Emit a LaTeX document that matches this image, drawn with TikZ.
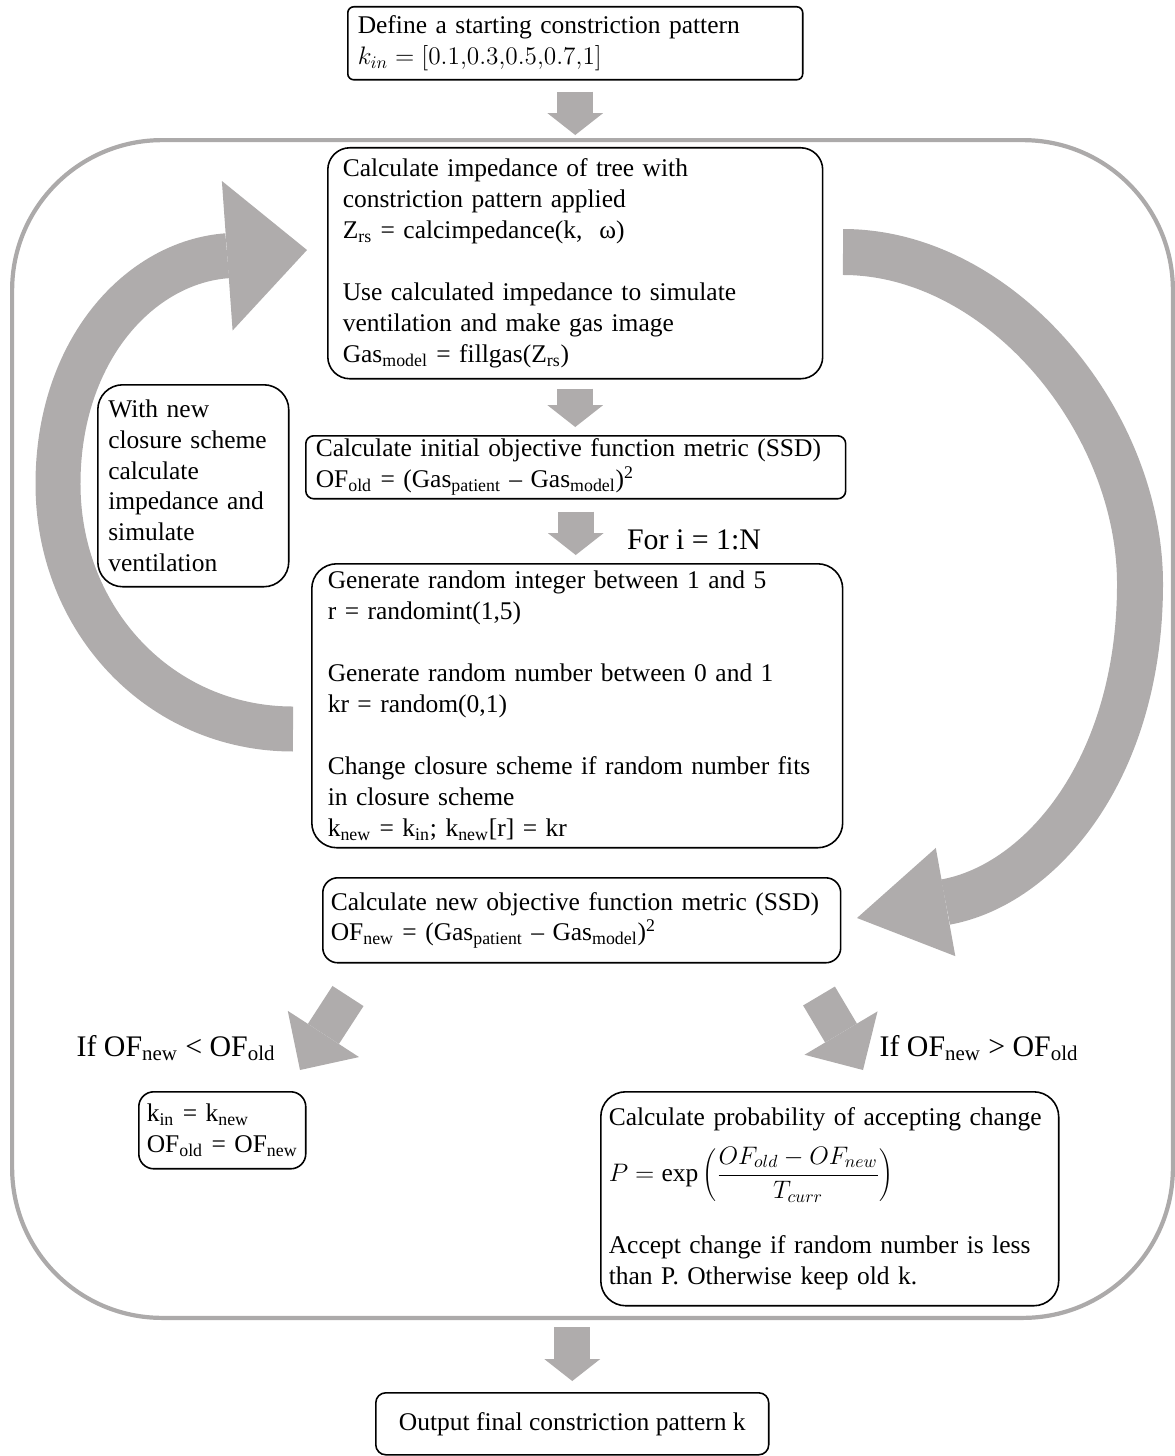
\documentclass[tikz,border=0pt]{standalone}
\usepackage{fontspec}
\setmainfont{Liberation Serif}
\usetikzlibrary{arrows.meta}
\definecolor{arrgray}{RGB}{175,172,172}
\definecolor{framegray}{RGB}{172,170,170}
\tikzset{
  box/.style={draw, fill=white, line width=0.9pt, anchor=north west, align=left, inner ysep=1pt,
    font=\fontsize{14.5}{17.6}\selectfont},
  lbl/.style={font=\fontsize{17}{20}\selectfont},
  fat/.style={draw=arrgray, line width=0.72cm, -{Triangle[length=0.44cm,width=1.12cm,line width=0pt]}},
  slant/.style={draw=arrgray, line width=0.74cm, -{Triangle[length=0.86cm,width=1.7cm,line width=0pt]}},
  loopl/.style={draw=arrgray, line width=0.9cm, -{Triangle[length=1.6cm,width=3cm,line width=0pt]}},
  loopr/.style={draw=arrgray, line width=0.92cm, -{Triangle[length=1.8cm,width=2.2cm,line width=0pt]}}
}
\begin{document}
\begin{tikzpicture}[x=0.02cm, y=-0.02cm]
\useasboundingbox (0,0) rectangle (1175,1456);
% outer loop frame
\node[draw=framegray, line width=2.4pt, rounded corners=3cm, minimum width=23.22cm, minimum height=23.56cm, inner sep=0pt] (loop) at (592.5,729) {};
\coordinate (ltail) at (293,729); \coordinate (lhead) at (307,250);
\coordinate (rtail) at (843,252); \coordinate (rhead) at (857,918);
\draw[loopl] (ltail) .. controls (160,729) and (58,620) .. (58,484) .. controls (58,350) and (140,262) .. (lhead);
\draw[loopr] (rtail) .. controls (1000,252) and (1140,420) .. (1140,584) .. controls (1140,770) and (1040,885) .. (rhead);

\node[box, rounded corners=0.12cm, minimum width=9.1cm, minimum height=1.46cm, text width=8.7cm, inner xsep=0.2cm] (start) at (347,6)
  {Define a starting constriction pattern\\ $k_{in} = [0.1{,}0.3{,}0.5{,}0.7{,}1]$};
\node[box, rounded corners=0.44cm, minimum width=9.9cm, minimum height=4.62cm, text width=9.3cm, inner xsep=0.3cm] (imped) at (327,147)
  {Calculate impedance of tree with\\ constriction pattern applied\\ Z\textsubscript{rs} = calcimpedance(k,~ ω)\\[17.6pt]
   Use calculated impedance to simulate\\ ventilation and make gas image\\ Gas\textsubscript{model} = fillgas(Z\textsubscript{rs})};
\node[box, rounded corners=0.16cm, minimum width=10.8cm, minimum height=1.26cm, text width=10.4cm, inner xsep=0.2cm] (ofold) at (305,435)
  {Calculate initial objective function metric (SSD)\\ OF\textsubscript{old} = (Gas\textsubscript{patient} -- Gas\textsubscript{model})\textsuperscript{2}};
\node[box, rounded corners=0.5cm, minimum width=3.82cm, minimum height=4.04cm, text width=3.4cm, inner xsep=0.21cm] (newscheme) at (97,384)
  {With new\\ closure scheme\\ calculate\\ impedance and\\ simulate\\ ventilation};
\node[box, rounded corners=0.5cm, minimum width=10.62cm, minimum height=5.68cm, text width=9.98cm, inner xsep=0.32cm] (rand) at (311,563)
  {Generate random integer between 1 and 5\\ r = randomint(1,5)\\[17.6pt]
   Generate random number between 0 and 1\\ kr = random(0,1)\\[17.6pt]
   Change closure scheme if random number fits\\ in closure scheme\\
   k\textsubscript{new} = k\textsubscript{in}; k\textsubscript{new}[r] = kr};
\node[box, rounded corners=0.3cm, minimum width=10.36cm, minimum height=1.7cm, text width=10.04cm, inner xsep=0.16cm] (ofnew) at (322,877)
  {Calculate new objective function metric (SSD)\\ OF\textsubscript{new} = (Gas\textsubscript{patient} -- Gas\textsubscript{model})\textsuperscript{2}};
\node[box, rounded corners=0.3cm, minimum width=3.34cm, minimum height=1.54cm, text width=3.02cm, inner xsep=0.16cm] (keep) at (138,1091)
  {k\textsubscript{in} = k\textsubscript{new}\\ OF\textsubscript{old} = OF\textsubscript{new}};
\node[box, rounded corners=0.5cm, minimum width=9.16cm, minimum height=4.28cm, text width=8.84cm, inner xsep=0.16cm] (prob) at (600,1091)
  {Calculate probability of accepting change\\[8pt] $P = \exp\left(\displaystyle\frac{OF_{old} - OF_{new}}{T_{curr}}\right)$\\[18pt]
   Accept change if random number is less\\ than P. Otherwise keep old k.};
\node[box, rounded corners=0.2cm, minimum width=7.86cm, minimum height=1.24cm, align=center] (output) at (375,1392)
  {Output final constriction pattern k};

\node[lbl] (forlbl) at (694,540) {For i = 1:N};
\node[lbl] (lesslbl) at (176,1048) {If OF\textsubscript{new} < OF\textsubscript{old}};
\node[lbl] (morelbl) at (979,1048) {If OF\textsubscript{new} > OF\textsubscript{old}};

\draw[fat, shorten <=0.22cm, shorten >=0.06cm] (start.south) -- (start.south |- loop.north);
\draw[fat, shorten <=0.18cm, shorten >=0.16cm] (imped.south) -- (imped.south |- ofold.north);
\draw[fat, shorten <=0.24cm, shorten >=0.16cm] (ofold.south) -- (ofold.south |- rand.north);
\draw[fat, shorten <=0.14cm, shorten >=0.22cm] (output.north |- loop.south) -- (output.north);
\coordinate (dl1) at (348,996); \coordinate (dl2) at (300,1070);
\coordinate (dr1) at (819,996); \coordinate (dr2) at (863,1070);
\draw[slant] (dl1) -- (dl2);
\draw[slant] (dr1) -- (dr2);
\end{tikzpicture}
\end{document}
